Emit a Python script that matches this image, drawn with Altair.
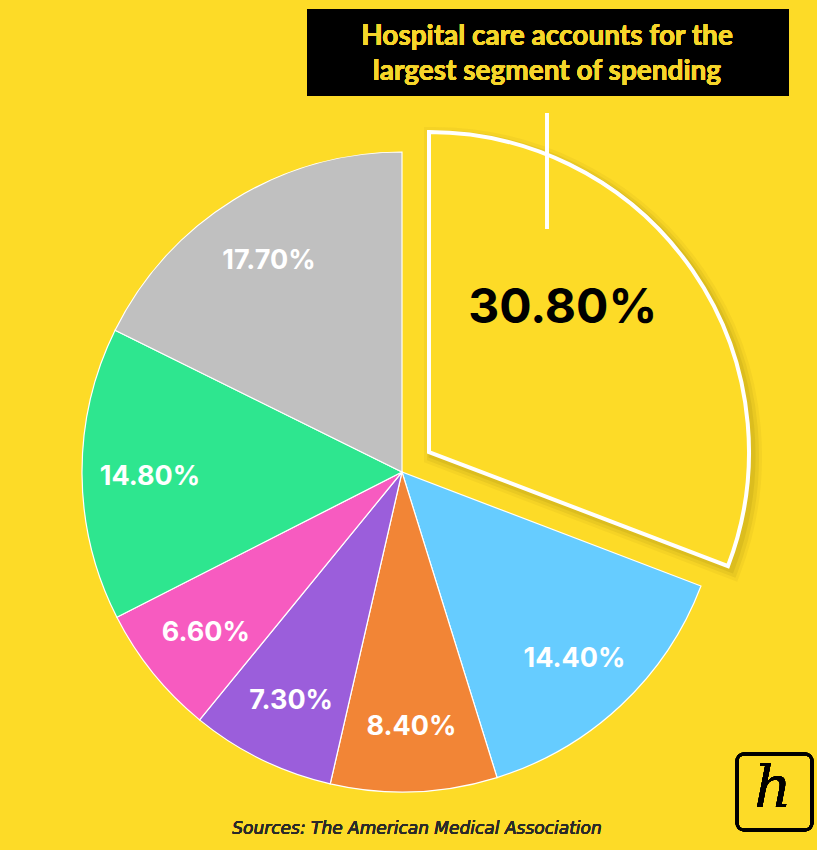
import altair as alt
import pandas as pd

# ---- data ----
segments = ["Hospital care", "Segment B", "Segment C", "Segment D", "Segment E", "Segment F", "Segment G"]
values = [30.8, 14.4, 8.4, 7.3, 6.6, 14.8, 17.7]
labels = ["30.80%", "14.40%", "8.40%", "7.30%", "6.60%", "14.80%", "17.70%"]
colors = ["#FDDB27", "#66CCFF", "#F28536", "#9B5EDB", "#F75BC0", "#2EE68F", "#C0C0C0"]
title_lines = "Hospital care accounts for the\nlargest segment of spending"
source_text = "Sources: The American Medical Association"

BG = "#FDDB27"

df = pd.DataFrame({
    "segment": segments,
    "value": values,
    "label": labels,
    "order": list(range(len(values))),
})

W, H = 817, 850
CX, CY = 402, 472          # pie centre
EX, EY = 429, 452          # exploded slice centre
R = 320

base = alt.Chart(df).transform_window(
    cum="sum(value)", sort=[alt.SortField("order")]
).transform_calculate(
    start="datum.cum - datum.value",
    mid="datum.cum - datum.value / 2",
)

theta_scale = alt.Scale(domain=[0, 100], nice=False, zero=True)
color_scale = alt.Scale(domain=segments, range=colors)

pie = base.transform_filter("datum.order > 0").mark_arc(
    radius=R, stroke="white", strokeWidth=1.2
).encode(
    theta=alt.Theta("start:Q", scale=theta_scale),
    theta2="cum:Q",
    color=alt.Color("segment:N", scale=color_scale, legend=None),
    x=alt.value(CX), y=alt.value(CY),
)

# soft shadow around the exploded slice
shadows = []
for w, op, off in [(18, 0.05, 4), (12, 0.07, 4), (7, 0.09, 3)]:
    shadows.append(
        base.transform_filter("datum.order == 0").mark_arc(
            radius=R, fillOpacity=0, stroke="#5a4a00", strokeOpacity=op, strokeWidth=w,
            strokeJoin="miter"
        ).encode(
            theta=alt.Theta("start:Q", scale=theta_scale),
            theta2="cum:Q",
            x=alt.value(EX + off), y=alt.value(EY + off),
        )
    )

exploded = base.transform_filter("datum.order == 0").mark_arc(
    radius=R, stroke="white", strokeWidth=4, strokeJoin="miter"
).encode(
    theta=alt.Theta("start:Q", scale=theta_scale),
    theta2="cum:Q",
    color=alt.Color("segment:N", scale=color_scale, legend=None),
    x=alt.value(EX), y=alt.value(EY),
)

small_labels = base.transform_filter("datum.order > 0").mark_text(
    radius=252, fontSize=27, fontWeight="bold", font="Inter", color="white",
    align="center", baseline="middle", dy=3
).encode(
    theta=alt.Theta("mid:Q", scale=theta_scale),
    text="label:N",
    x=alt.value(CX), y=alt.value(CY),
)

big_label = base.transform_filter("datum.order == 0").mark_text(
    radius=200, dx=-31, dy=-30, fontSize=48, fontWeight="bold", font="Inter", color="black",
    align="center", baseline="middle"
).encode(
    theta=alt.Theta("mid:Q", scale=theta_scale),
    text="label:N",
    x=alt.value(EX), y=alt.value(EY),
)

title_box = alt.Chart(df).mark_rect(color="black").encode(
    x=alt.value(307), x2=alt.value(789), y=alt.value(9), y2=alt.value(96)
)
title_text = alt.Chart(df).mark_text(
    lineBreak="\n", lineHeight=35, fontSize=28, fontWeight="bold", font="Lato",
    color="#F5D62A", align="center", baseline="middle"
).encode(
    text=alt.value(title_lines), x=alt.value(547), y=alt.value(37)
)

pointer = alt.Chart(df).mark_rule(color="white", strokeWidth=3).encode(
    x=alt.value(547), y=alt.value(113), y2=alt.value(229)
)

source = alt.Chart(df).mark_text(
    fontSize=17, fontStyle="italic", font="DejaVu Sans", color="#2a2a2a",
    align="center", baseline="middle"
).encode(text=alt.value(source_text), x=alt.value(417), y=alt.value(829))

logo_box = alt.Chart(df).mark_rect(
    fill=None, stroke="black", strokeWidth=3, cornerRadius=7
).encode(x=alt.value(737), x2=alt.value(812), y=alt.value(754), y2=alt.value(830))
logo_h = alt.Chart(df).mark_text(
    fontSize=58, fontStyle="italic", font="DejaVu Serif", color="black",
    align="center", baseline="middle"
).encode(text=alt.value("h"), x=alt.value(773), y=alt.value(790))

chart = alt.layer(
    pie, *shadows, exploded, small_labels, big_label,
    title_box, title_text, pointer, source, logo_box, logo_h
).properties(
    width=W, height=H, background=BG, padding=0,
    autosize=alt.AutoSizeParams(type="none"),
).configure_view(stroke=None)

chart.save("out.html", embed_options={"renderer": "svg", "actions": False})
